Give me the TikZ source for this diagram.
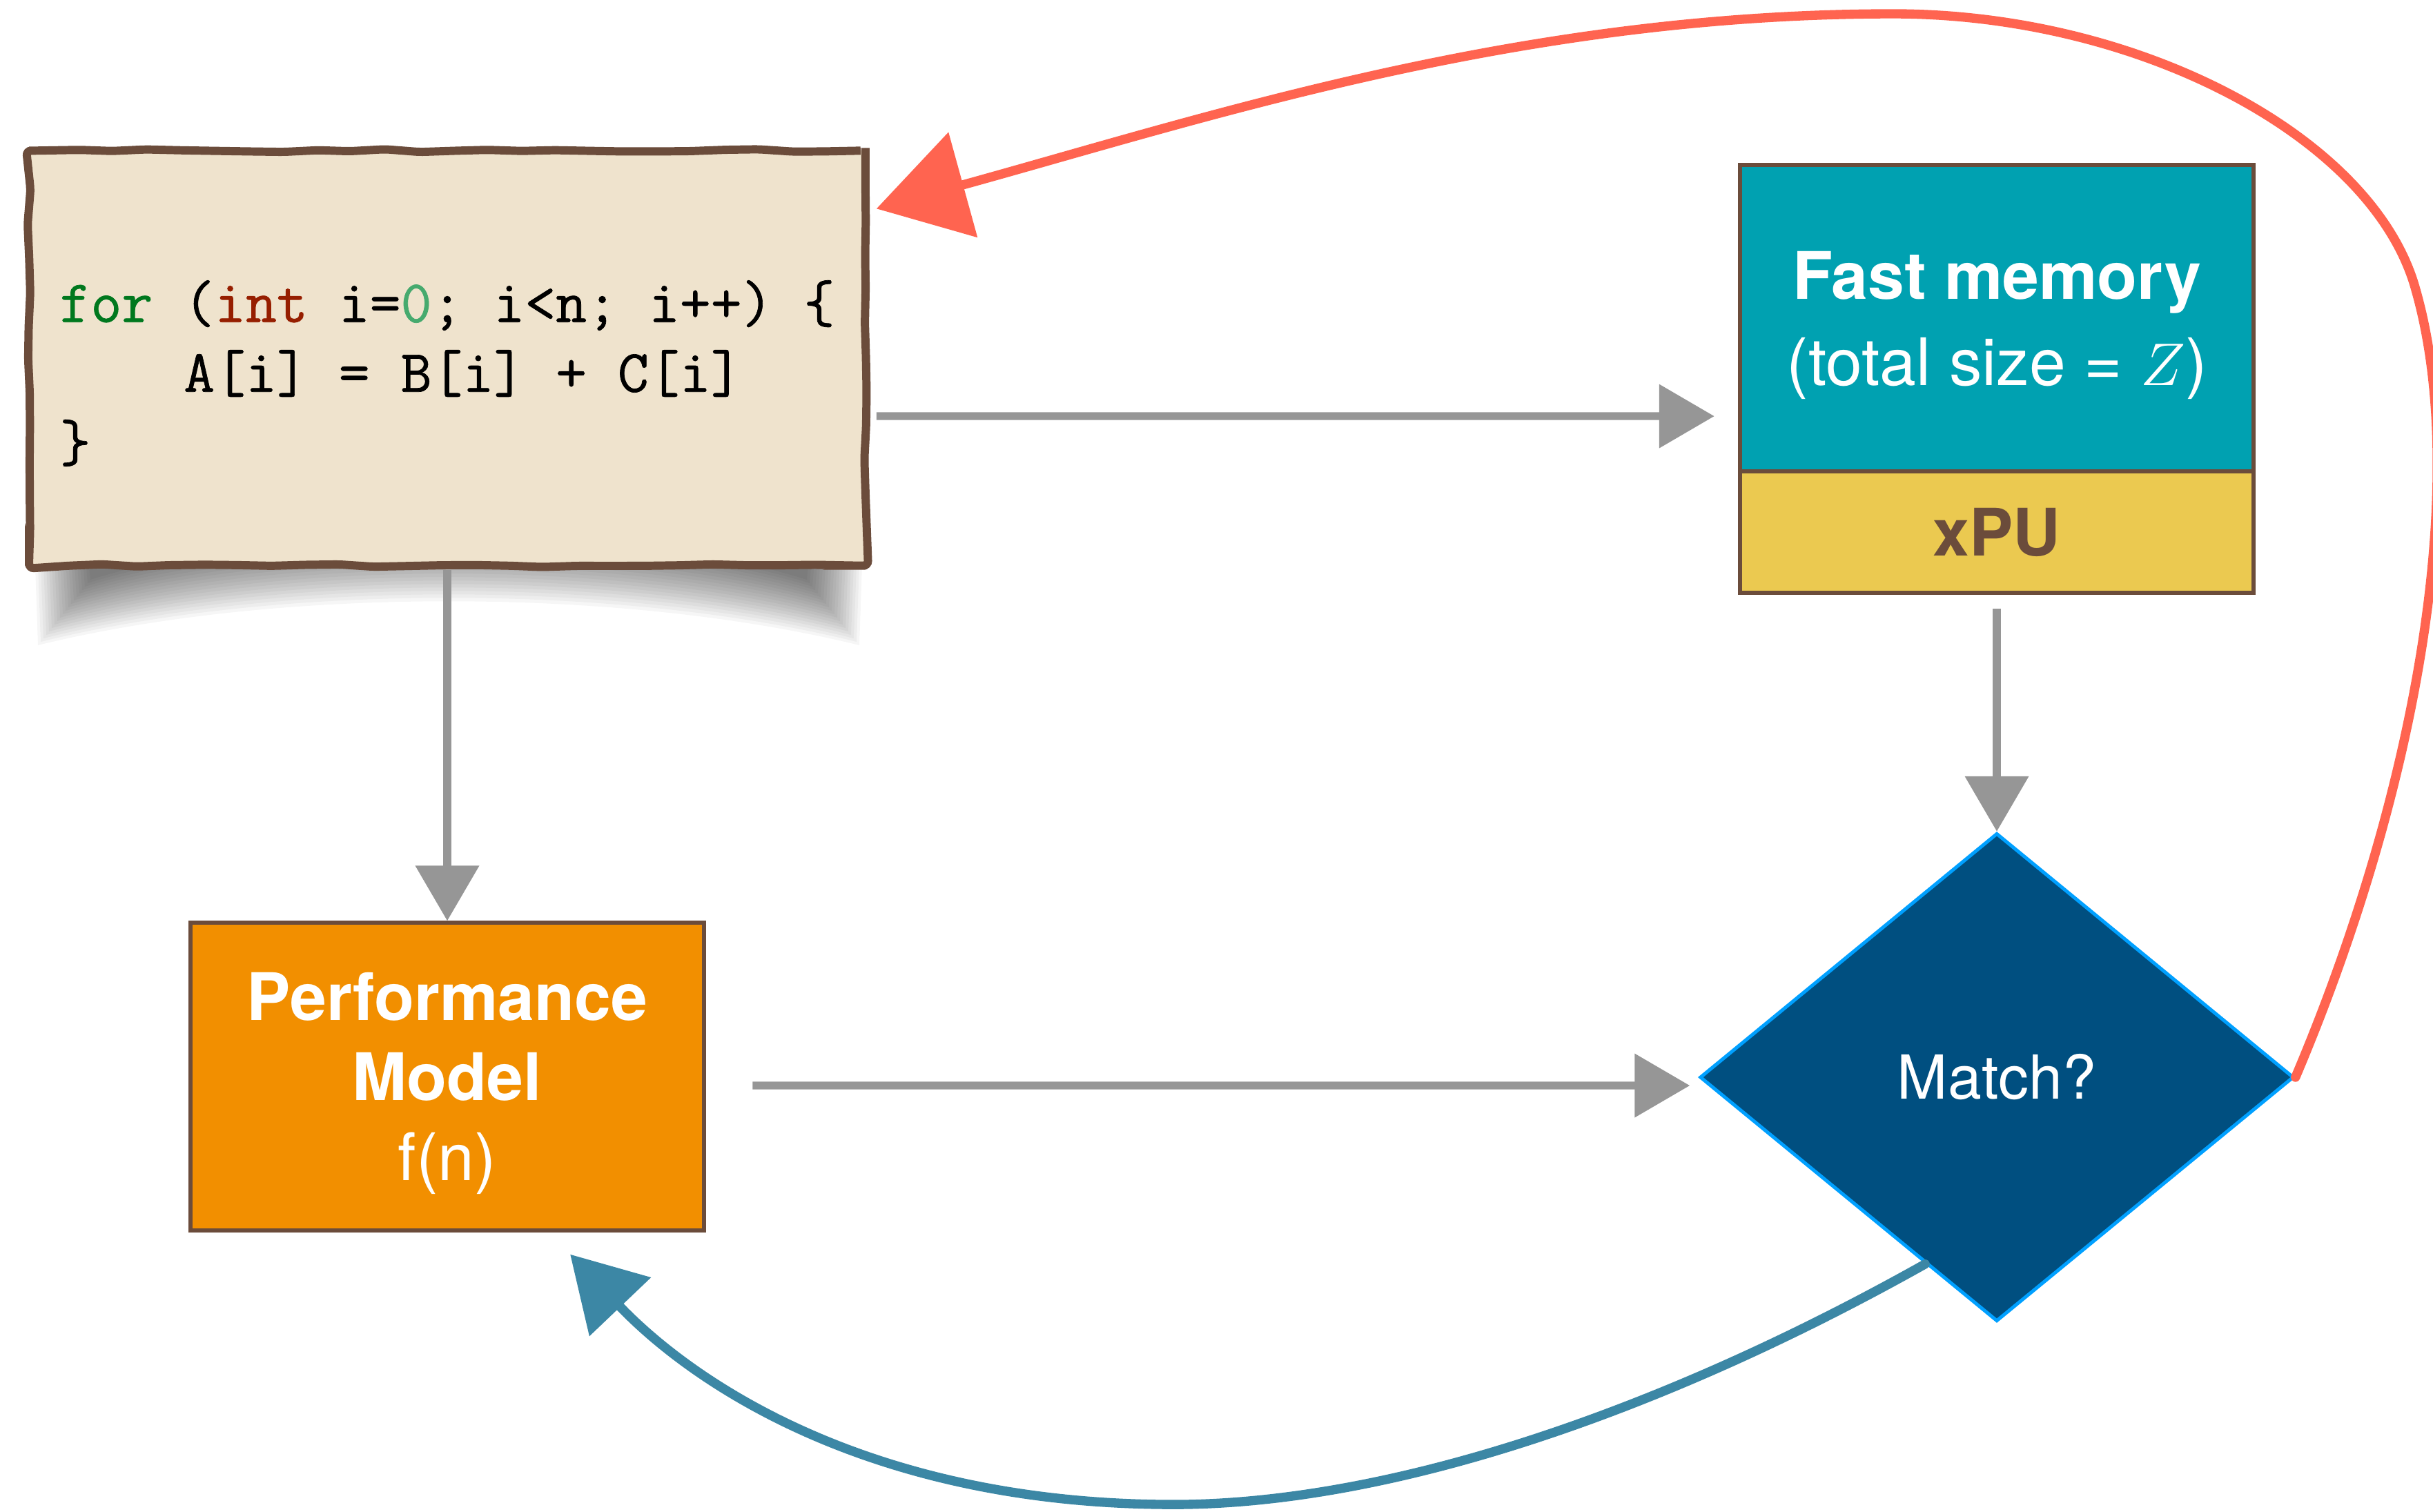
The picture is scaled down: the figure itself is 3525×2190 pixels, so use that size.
\documentclass[tikz,border=0pt]{standalone}
\usepackage{fontspec}
\setmainfont{TeX Gyre Heros}
\newfontfamily\codefont{Latin Modern Mono}[FakeBold=0.8]
\usepackage{tikz}
\usetikzlibrary{arrows.meta, backgrounds, calc, decorations.pathmorphing, positioning, shapes.geometric}

\definecolor{paper}{RGB}{239,227,205}
\definecolor{bark}{RGB}{107,76,59}
\definecolor{memteal}{RGB}{0,161,177}
\definecolor{mustard}{RGB}{235,201,80}
\definecolor{tangerine}{RGB}{242,143,0}
\definecolor{deepblue}{RGB}{0,79,128}
\definecolor{skyline}{RGB}{0,160,255}
\definecolor{loopred}{RGB}{255,100,80}
\definecolor{loopblue}{RGB}{60,135,165}
\definecolor{arrowgray}{RGB}{150,150,150}
\definecolor{kwgreen}{RGB}{0,120,30}
\definecolor{kwred}{RGB}{150,30,0}
\definecolor{numgreen}{RGB}{70,170,110}

\tikzstyle{codebox}=[rectangle, draw=bark, fill=paper, line width=3.4pt, rounded corners=2pt,
  minimum width=12.11cm, minimum height=6.01cm,
  decorate, decoration={random steps, segment length=14pt, amplitude=0.6pt}]
\tikzstyle{codetext}=[inner sep=0pt, align=left, font=\codefont\fontsize{24.8}{28.7}\selectfont]
\tikzstyle{block}=[rectangle, draw=bark, line width=1.7pt, minimum width=7.44cm, text=white, align=center]
\tikzstyle{decision}=[diamond, aspect=1.2, inner sep=0pt, draw=skyline, fill=deepblue, line width=1.4pt,
  minimum width=8.6cm, minimum height=7.07cm, text=white, font=\fontsize{25}{30}\selectfont]
\tikzstyle{flow}=[draw=arrowgray, line width=3.2pt, -{Triangle[length=0.8cm, width=0.9cm]}]
\tikzstyle{feedback}=[line width=3.8pt, line cap=round]

\begin{document}
\begin{tikzpicture}[x=0.01cm, y=-0.01cm]
  \useasboundingbox (0,0) rectangle (3525,2190);

  % the loop on its sheet of paper
  \node[codebox] (code) at (648,519) {};
  \node[codetext] (loop) at ([yshift=-0.22cm]code.center)
    {{\color{kwgreen}for} ({\color{kwred}int} i={\color{numgreen}0}; i<n; i++) \{\\
     ~~~~A[i] = B[i] + C[i]\\
     \}};

  % curled shadow under the sheet
  \begin{scope}[on background layer]
    \foreach \k in {0,...,19}
      \fill[black, opacity=0.035] (50+4*\k,790) -- (55+4*\k,935-5*\k)
        .. controls (400,850-5*\k) and (900,850-5*\k) .. (1245-4*\k,935-5*\k)
        -- (1250-4*\k,790) -- cycle;
  \end{scope}

  % machine
  \node[block, fill=memteal, minimum height=4.44cm, text depth=0pt, font=\fontsize{27}{35.5}\selectfont] (fast) at (2893,461)
    {\textbf{Fast memory}\\(total size = $Z$)};
  \node[block, fill=mustard, minimum height=1.76cm, text=bark, font=\fontsize{27}{33}\selectfont] (xpu) [below=-1.7pt of fast]
    {\textbf{xPU}};

  % model and check
  \node[block, fill=tangerine, minimum height=4.45cm, text depth=0pt, font=\fontsize{27}{33}\selectfont] (perf) at (648,1560)
    {\textbf{Performance}\\\textbf{Model}\\f(n)};
  \node[decision] (match) at (2893,1561) {Match?};

  % gray flow
  \draw[flow] ([xshift=0.1cm, yshift=-0.84cm]code.east) -- ([xshift=-0.34cm, yshift=-1.42cm]fast.west);
  \draw[flow] (code.south) -- (perf.north);
  \draw[flow] ([xshift=0.67cm, yshift=-0.13cm]perf.east) -- ([xshift=-0.12cm, yshift=-0.12cm]match.west);
  \draw[flow] ([yshift=-0.2cm]xpu.south) -- (match.north);

  % loops back
  \draw[feedback, draw=loopred, -{Triangle[length=1.3cm, width=1.55cm]}] (match.east)
    .. controls (3500,1150) and (3580,700) .. (3500,420)
    .. controls (3440,200) and (3100,20) .. (2743,20)
    .. controls (2200,20) and (1750,170) .. ([xshift=0.1cm, yshift=-0.9cm]code.north east);
  \draw[feedback, draw=loopblue, -{Triangle[length=1.05cm, width=1.2cm]}] ($(match.west)!0.76!(match.south)$)
    .. controls (2400,2050) and (2000,2185) .. (1682,2180)
    .. controls (1250,2175) and (1000,2000) .. ([xshift=1.78cm, yshift=-0.32cm]perf.south);
\end{tikzpicture}
\end{document}
